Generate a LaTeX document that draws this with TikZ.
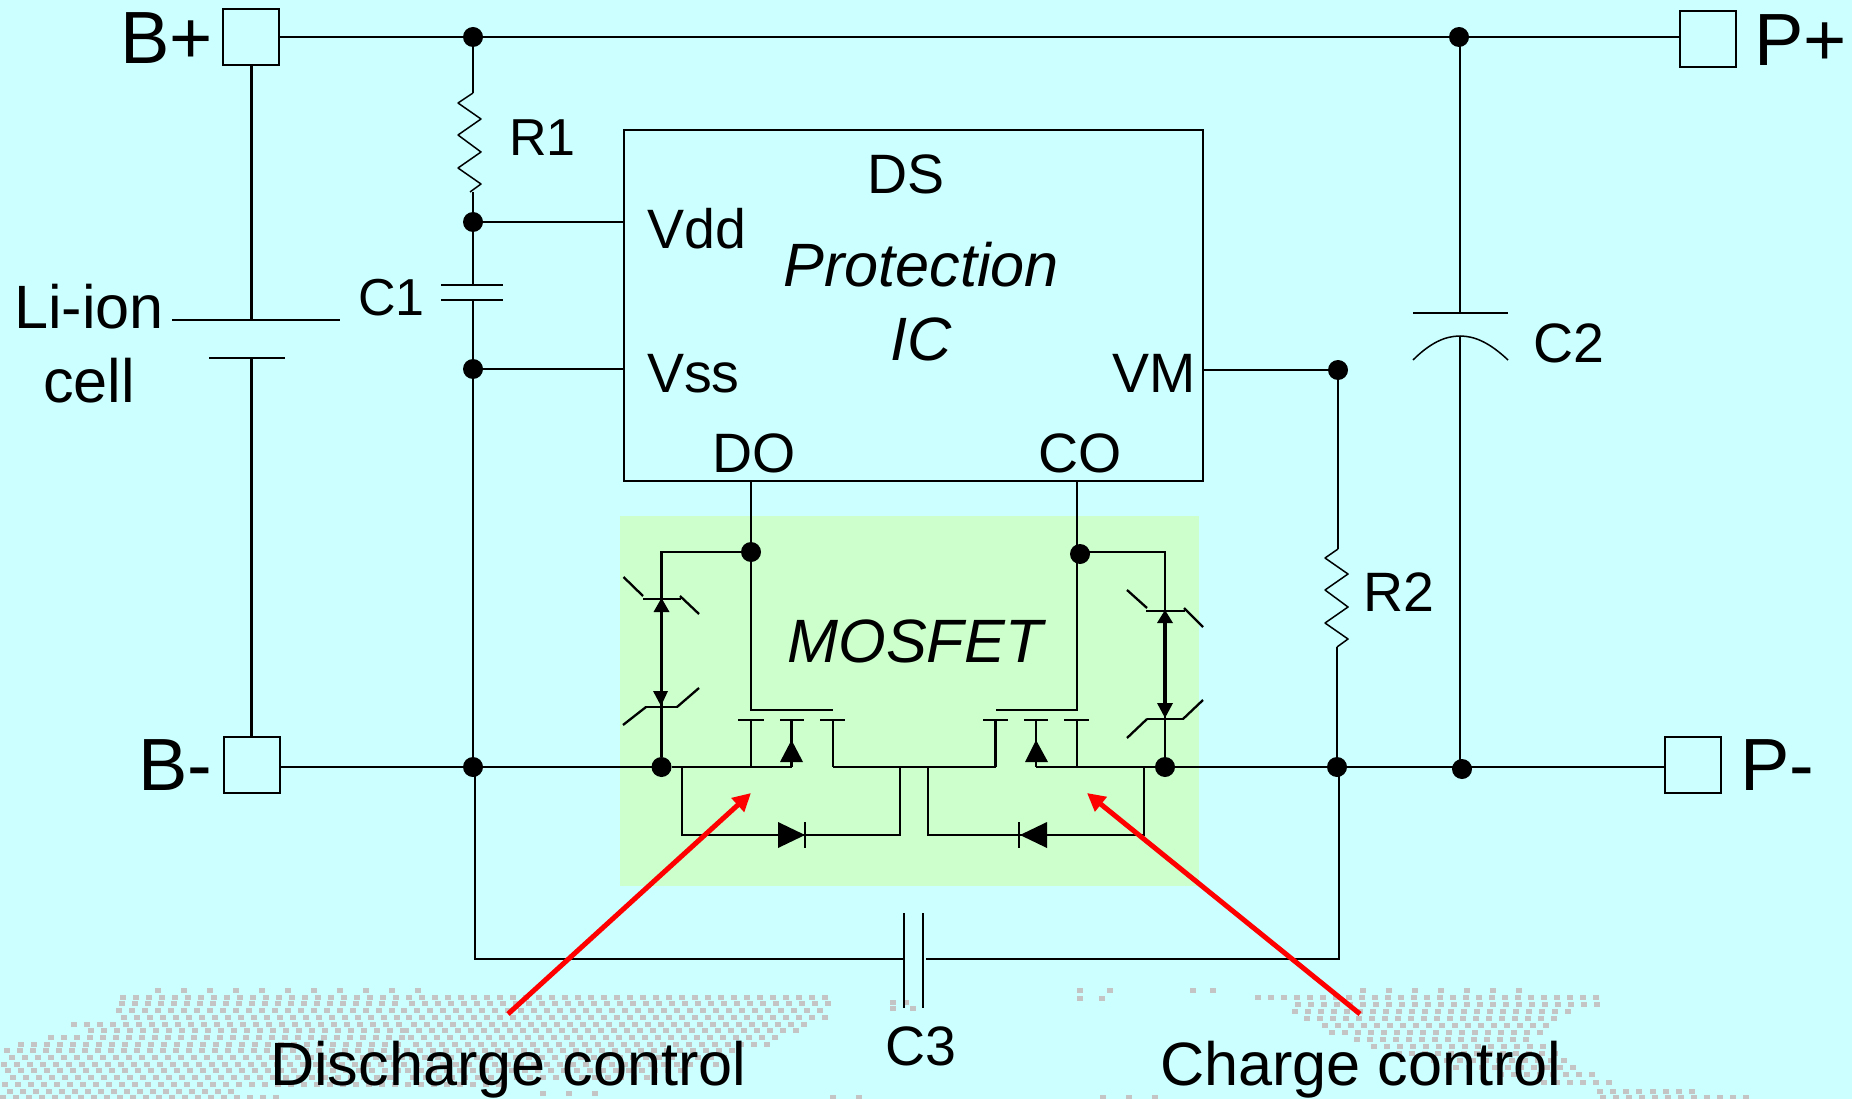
\documentclass[tikz,border=0pt]{standalone}
\usepackage{fontspec}
\setmainfont{Liberation Sans}
\usetikzlibrary{arrows.meta}
\definecolor{bgc}{HTML}{CCFFFF}
\definecolor{mosc}{HTML}{CCFFCC}
\definecolor{dotc}{HTML}{C4C4C4}
\tikzset{
  wire/.style={line width=2.3pt,black},
  thin wire/.style={line width=1.5pt,black},
  heavy wire/.style={line width=3.5pt,black},
  term/.style={draw=black,line width=2pt,fill=none,minimum size=56pt,inner sep=0pt,outer sep=0pt},
  icbox/.style={draw=black,line width=2pt,minimum width=579pt,minimum height=351pt,inner sep=0pt,outer sep=0pt},
  junction/.style={circle,fill=black,minimum size=20pt,inner sep=0pt,outer sep=0pt},
  big/.style={anchor=base west,inner sep=0pt,font=\fontsize{74}{74}\selectfont},
  med/.style={anchor=base west,inner sep=0pt,font=\fontsize{55.5}{60}\selectfont},
  sml/.style={anchor=base west,inner sep=0pt,font=\fontsize{52}{60}\selectfont},
  lrg/.style={anchor=base west,inner sep=0pt,font=\fontsize{61.2}{62}\selectfont},
  ital/.style={anchor=base,inner sep=0pt,font=\fontsize{61.2}{62}\selectfont\itshape},
  redarrow/.style={draw=red,line width=5pt,-{Triangle[length=18pt,width=18pt]}},
}
\begin{document}
\begin{tikzpicture}[x=1pt,y=-1pt]
\useasboundingbox (0,0) rectangle (1852,1099);
\fill[bgc] (0,0) rectangle (1852,1099);
% speckled background
\foreach \yy/\a/\b/\ss/\p in {
 988/155/420/5/26, 988/1360/1530/5/26, 988/1077/1109/0/30, 988/1190/1200/0/20,
 995/115/830/5/13, 995/1250/1595/5/13, 996/1077/1100/0/22,
 1001/110/400/5/13, 1001/400/830/-5/13, 1002/1285/1600/5/13,
 1008/115/400/5/13, 1008/400/820/-5/13, 1009/1290/1570/5/13,
 1015/115/400/5/13, 1015/400/830/-5/13, 1016/1297/1560/5/13,
 1022/60/400/5/13, 1022/400/810/-5/13, 1023/1310/1545/5/13,
 1028/85/400/5/13, 1028/400/800/-5/13, 1030/1325/1540/5/13,
 1035/40/400/5/13, 1035/400/780/-5/13, 1037/1345/1530/5/13,
 1042/5/400/5/13, 1042/400/770/-5/13, 1044/1370/1550/5/13,
 1048/0/400/5/13, 1048/400/740/-5/13, 1051/1390/1560/5/13,
 1055/0/400/5/13, 1055/400/730/-5/13, 1058/1420/1565/5/13,
 1062/0/400/5/13, 1062/400/720/-5/13, 1065/1450/1570/5/13,
 1068/0/400/5/13, 1068/400/690/-5/13, 1072/1490/1590/5/13,
 1075/0/400/5/13, 1075/400/650/-5/13, 1080/1540/1610/5/13,
 1082/0/260/5/13, 1082/260/500/5/13, 1089/1590/1640/5/13, 1089/1650/1690/0/13,
 1089/0/240/5/13, 1091/540/600/0/26, 1095/0/280/0/13, 1095/1600/1747/0/13,
 1095/830/880/0/26, 1095/1100/1160/0/26, 1000/890/904/0/13, 1006/890/900/0/20%
}{
  \pgfmathsetmacro\aa{\a+mod(abs(\ss*(\yy-988)/7),13)}
  \pgfmathsetmacro\nn{\aa+\p}
  \foreach \xx in {\aa,\nn,...,\b}{
    \fill[dotc] (\xx,\yy) rectangle +(6,4.5);
  }
}
% MOSFET panel
\fill[mosc] (620,516) rectangle (1199,886);

% terminals and IC
\node[term] (bp) at (251,37) {};
\node[term] (pp) at (1708,39) {};
\node[term] (bm) at (252,765) {};
\node[term] (pm) at (1693,765) {};
\node[icbox] (ic) at (913.5,305.5) {};

% junctions
\node[junction] (j1) at (473,37) {};
\node[junction] (j2) at (1459,37) {};
\node[junction] (j3) at (473,222) {};
\node[junction] (j4) at (473,369) {};
\node[junction] (j5) at (1338,370) {};
\node[junction] (j6) at (473,767) {};
\node[junction] (j7) at (661.5,767) {};
\node[junction] (j8) at (1165,767) {};
\node[junction] (j9) at (1337,767) {};
\node[junction] (j10) at (1462,769) {};
\node[junction] (j11) at (751,552) {};
\node[junction] (j12) at (1080,554) {};

% named points
\coordinate (r1a) at (473,93);
\coordinate (r1b) at (470,192);
\coordinate (c1a) at (473,285);
\coordinate (c1b) at (473,300);
\coordinate (r2a) at (1338,549);
\coordinate (r2b) at (1337,647);
\coordinate (c2a) at (1460,313);
\coordinate (c2b) at (1460,336);
\coordinate (cella) at (251.5,320);
\coordinate (cellb) at (251.5,358);
\coordinate (ldo) at (751,481);
\coordinate (lco) at (1077,481);
\coordinate (lg) at (751,710);
\coordinate (lge) at (833,710);
\coordinate (rg) at (1077,710);
\coordinate (rge) at (995.5,710);
\coordinate (ls) at (751,767);
\coordinate (lb) at (791.5,767);
\coordinate (ld) at (833,767);
\coordinate (rd) at (995.5,767);
\coordinate (rb) at (1036,767);
\coordinate (rs) at (1077,767);
\coordinate (ldl) at (682,767);
\coordinate (ldr) at (900,767);
\coordinate (rdl) at (928,767);
\coordinate (rdr) at (1144,767);
\coordinate (c3bl) at (475,959);
\coordinate (c3br) at (1339,959);
\coordinate (c3l) at (904,959);
\coordinate (c3r) at (926,959);

% power rails
\draw[wire] (j1 -| bp.east) -- (j1) -- (j2) -- (j2 -| pp.west);
\draw[wire] (j6 -| bm.east) -- (j6) -- (j7) -- (ls) -- (lb);
\draw[wire] (ld) -- (rd);
\draw[wire] (rb) -- (rs) -- (j8) -- (j9) -- (j9 -| pm.west);

% Li-ion cell
\draw[wire] (bp.south -| cella) -- (cella);
\draw[wire] (cellb) -- (bm.north -| cellb);
\draw[thin wire] (172,320) -- (340,320);
\draw[thin wire] (209,358) -- (285,358);

% R1 / C1
\draw[wire] (j1) -- (r1a);
\draw[thin wire,line join=round] (r1a) -- (458,103) -- (481,119) -- (458,135) -- (481,152) -- (458,168) -- (481,184) -- (r1b);
\draw[wire] (r1b -| j3) -- (j3) -- (c1a);
\draw[thin wire] (441,285) -- (503,285);
\draw[thin wire] (441,300) -- (503,300);
\draw[wire] (c1b) -- (j4) -- (j6);
\draw[wire] (j3) -- (j3 -| ic.west);
\draw[wire] (j4) -- (j4 -| ic.west);

% VM / R2
\draw[wire] (j5 -| ic.east) -- (j5) -- (r2a);
\draw[thin wire,line join=round] (r2a) -- (1325,558) -- (1348,574) -- (1325,590) -- (1348,607) -- (1325,623) -- (1348,639) -- (r2b);
\draw[wire] (r2b) -- (j9);

% C2
\draw[wire] (j2 -| c2a) -- (c2a);
\draw[wire] (c2b) -- (c2b |- j10);
\draw[thin wire] (1413,313) -- (1508,313);
\draw[thin wire] (1413,360) .. controls (1430,343) and (1445,336) .. (c2b) .. controls (1475,336) and (1490,343) .. (1508,360);

% C3 loop
\draw[wire] (j6 -| c3bl) -- (c3bl) -- (c3l);
\draw[wire] (c3r) -- (c3br) -- (c3br |- j9);
\draw[wire] (904,913) -- (904,1008);
\draw[wire] (923,913) -- (923,1008);

% gate lines
\draw[wire] (ldo) -- (j11) -- (lg) -- (lge);
\draw[wire] (lco) -- (rg) -- (rge);
\draw[wire] (j11) -- (661.5,552) -- (j7);
\draw[wire] (1080,552) -- (1165,552) -- (j8);

% left MOSFET
\foreach \px/\pa/\pb in {751/738/764,791.5/780/804,833/820/845}{
  \draw[wire] (\pa,720) -- (\pb,720);
  \draw[wire] (\px,720) -- (\px,767);
}
\fill[black] (791.5,740) -- (803,762) -- (780,762) -- cycle;
% right MOSFET
\foreach \px/\pa/\pb in {995.5/983/1008,1036/1024/1048,1077/1064/1089}{
  \draw[wire] (\pa,720) -- (\pb,720);
  \draw[wire] (\px,720) -- (\px,767);
}
\fill[black] (1036,740) -- (1048,762) -- (1025,762) -- cycle;

% left zener pair
\draw[wire] (643,599) -- (681,599);
\draw[wire] (623.5,577) -- (643,596);
\draw[wire] (680,596) -- (699,614);
\draw[wire] (645,707) -- (678,707);
\draw[wire] (623,725) -- (646,707);
\draw[wire] (677,707) -- (699,688);
\draw[heavy wire] (661.5,610) -- (661.5,695);
\fill[black] (661.5,598) -- (669.5,612) -- (653.5,612) -- cycle;
\fill[black] (653,691) -- (668,691) -- (661,706) -- cycle;
% right zener pair
\draw[wire] (1146,611) -- (1185,611);
\draw[wire] (1127,590) -- (1147,608);
\draw[wire] (1184,608) -- (1203,627);
\draw[wire] (1147,719) -- (1184,719);
\draw[wire] (1127,738) -- (1147,719);
\draw[wire] (1183,719) -- (1203,700);
\draw[heavy wire] (1165,620) -- (1165,705);
\fill[black] (1165,610) -- (1173,623) -- (1157,623) -- cycle;
\fill[black] (1157,703) -- (1173,703) -- (1165,718) -- cycle;

% body diodes
\draw[wire] (ldl) -- (682,835) -- (900,835) -- (ldr);
\fill[black] (778,822) -- (805,835) -- (778,848) -- cycle;
\draw[wire] (805,822) -- (805,848);
\draw[wire] (rdl) -- (928,835) -- (1144,835) -- (rdr);
\fill[black] (1047,822) -- (1020,835) -- (1047,848) -- cycle;
\draw[wire] (1019,822) -- (1019,848);

% labels
\node[big] (tbp) at (120,64) {B+};
\node[big] (tpp) at (1754,66) {P+};
\node[big] (tbm) at (138,790) {B-};
\node[big] (tpm) at (1740,790) {P-};
\node[sml] (tr1) at (509,156) {R1};
\node[med] (tds) at (867,194) {DS};
\node[med] (tvdd) at (647,249) {Vdd};
\node[med] (tvss) at (647,392) {Vss};
\node[med,anchor=base east] (tvm) at (1196,392) {VM};
\node[med] (tdo) at (712,472) {DO};
\node[med] (tco) at (1038,472) {CO};
\node[sml] (tc1) at (358,316) {C1};
\node[med] (tc2) at (1533,362) {C2};
\node[med] (tr2) at (1363,611) {R2};
\node[med] (tc3) at (885,1065) {C3};
\node[ital] (tprot) at (921,287) {Protection};
\node[ital] (tic) at (921,360) {IC};
\node[ital] (tmos) at (915,662) {MOSFET};
\node[lrg] (tli) at (14,328) {Li-ion};
\node[lrg] (tcell) at (43,402) {cell};
\node[lrg] (tdis) at (270,1085) {Discharge control};
\node[lrg] (tcha) at (1160,1085) {Charge control};

% red arrows
\coordinate (a1s) at (508,1014);
\coordinate (a1e) at (751,793);
\coordinate (a2s) at (1360,1014);
\coordinate (a2e) at (1087,793);
\draw[redarrow] (a1s) -- (a1e);
\draw[redarrow] (a2s) -- (a2e);
\end{tikzpicture}
\end{document}
